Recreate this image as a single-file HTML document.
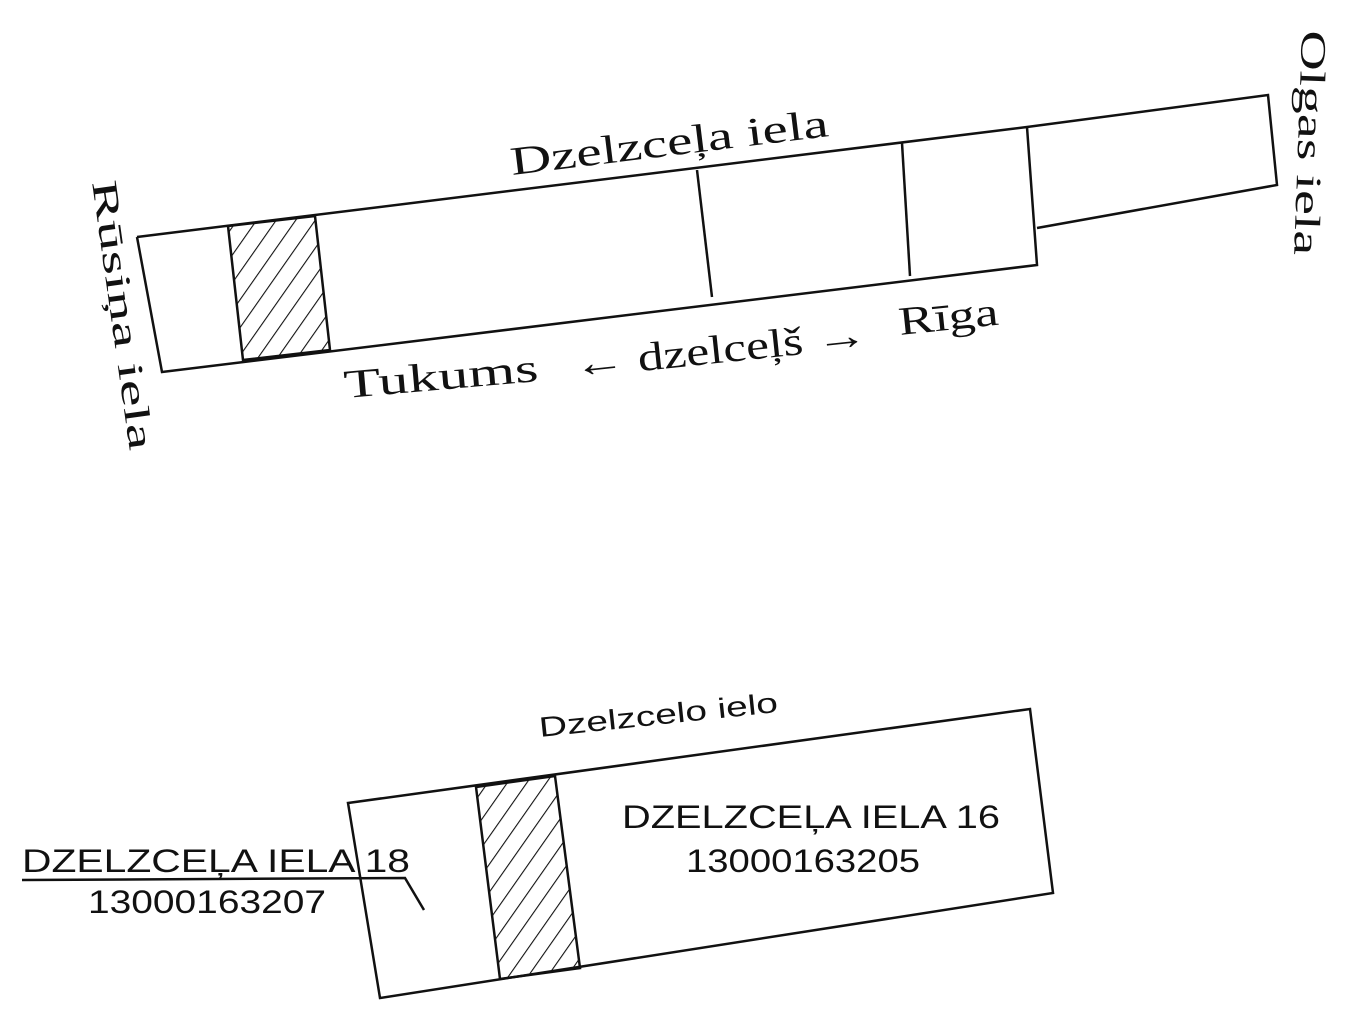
<!DOCTYPE html>
<html><head><meta charset="utf-8"><style>
html,body{margin:0;padding:0;background:#fff;}
svg{display:block;}
text{font-family:"Liberation Sans",sans-serif;fill:#111;}
.s{font-family:"Liberation Serif",serif;}
</style></head><body>
<svg width="1358" height="1031" viewBox="0 0 1358 1031" xmlns="http://www.w3.org/2000/svg">
<defs>
<pattern id="h" patternUnits="userSpaceOnUse" width="16" height="16" patternTransform="rotate(35)">
<line x1="0" y1="0" x2="0" y2="16" stroke="#111" stroke-width="2.2"/>
</pattern>
</defs>
<g fill="none" stroke="#111" stroke-width="2.5">
<polygon points="228,226 315,216 330,350 243,360" fill="url(#h)"/>
<polyline points="137,237 1027,127 1268,95 1277,185 1037,228"/>
<polyline points="137,237 162,372 1037,265 1027,127"/>
<line x1="697" y1="170" x2="712" y2="297"/>
<line x1="902" y1="143" x2="910" y2="276"/>
<polygon points="476,787 555,776 580,968 500,979" fill="url(#h)"/>
<polygon points="348,803 1030,709 1053,893 380,998"/>
<polyline points="22,880 405,878 424,910"/>
</g>
<text class="s" x="512" y="175" font-size="40" textLength="320" lengthAdjust="spacingAndGlyphs" transform="rotate(-7 512 175)">Dzelzceļa iela</text>
<text class="s" x="345" y="398" font-size="40" textLength="195" lengthAdjust="spacingAndGlyphs" transform="rotate(-5 345 398)">Tukums</text>
<text class="s" x="575" y="378" font-size="40" textLength="295" lengthAdjust="spacingAndGlyphs" transform="rotate(-6 575 378)">← dzelceļš →</text>
<text class="s" x="900" y="335" font-size="40" textLength="100" lengthAdjust="spacingAndGlyphs" transform="rotate(-6 900 335)">Rīga</text>
<text class="s" x="92" y="182" font-size="36" textLength="272" lengthAdjust="spacingAndGlyphs" transform="rotate(82 92 182)">Rūsiņa iela</text>
<text class="s" x="1302" y="30" font-size="36" textLength="225" lengthAdjust="spacingAndGlyphs" transform="rotate(92 1302 30)">Olgas iela</text>
<text x="540" y="737" font-size="28" textLength="240" lengthAdjust="spacingAndGlyphs" transform="rotate(-6 540 737)">Dzelzcelo ielo</text>
<text x="622" y="828" font-size="32" textLength="378" lengthAdjust="spacingAndGlyphs">DZELZCEĻA IELA 16</text>
<text x="686" y="872" font-size="32" textLength="234" lengthAdjust="spacingAndGlyphs">13000163205</text>
<text x="22" y="872" font-size="32" textLength="388" lengthAdjust="spacingAndGlyphs">DZELZCEĻA IELA 18</text>
<text x="88" y="913" font-size="32" textLength="238" lengthAdjust="spacingAndGlyphs">13000163207</text>
</svg>
</body></html>
